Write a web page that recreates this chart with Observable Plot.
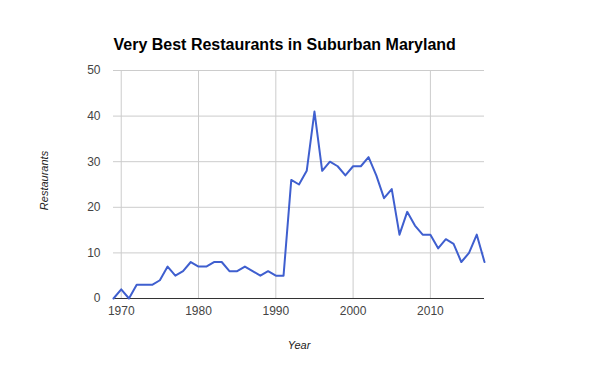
<!DOCTYPE html>
<html>
<head>
<meta charset="utf-8">
<script src="https://cdn.jsdelivr.net/npm/d3@7"></script>
<script src="https://cdn.jsdelivr.net/npm/@observablehq/plot@0.6"></script>
<style>
  html, body { margin: 0; padding: 0; background: #fff; }
  #chart svg { display: block; }
</style>
</head>
<body>
<div id="chart"></div>
<script>
const years = [1969,1970,1971,1972,1973,1974,1975,1976,1977,1978,1979,1980,1981,1982,1983,1984,1985,1986,1987,1988,1989,1990,1991,1992,1993,1994,1995,1996,1997,1998,1999,2000,2001,2002,2003,2004,2005,2006,2007,2008,2009,2010,2011,2012,2013,2014,2015,2016,2017];
const restaurants = [0,2,0,3,3,3,4,7,5,6,8,7,7,8,8,6,6,7,6,5,6,5,5,26,25,28,41,28,30,29,27,29,29,31,27,22,24,14,19,16,14,14,11,13,12,8,10,14,8];
const xTicks = [1970,1980,1990,2000,2010];
const yTicks = [0,10,20,30,40,50];
const title = "Very Best Restaurants in Suburban Maryland";
const xLabel = "Year";
const yLabel = "Restaurants";

const data = years.map((y, i) => ({year: y, value: restaurants[i]}));

const chart = Plot.plot({
  width: 596,
  height: 368,
  marginLeft: 113,
  marginRight: 112,
  marginTop: 70,
  marginBottom: 70,
  style: {fontFamily: "'Liberation Sans', Arial, sans-serif", fontSize: "12px", color: "#444", background: "#fff"},
  x: {domain: [1969, 2017], ticks: xTicks, tickFormat: "d", tickSize: 0, tickPadding: 8, label: null},
  y: {domain: [0, 50], ticks: yTicks, tickSize: 0, tickPadding: 13, label: null},
  marks: [
    Plot.gridY(yTicks, {stroke: "#cccccc", strokeOpacity: 1}),
    Plot.gridX(xTicks, {stroke: "#cccccc", strokeOpacity: 1}),
    Plot.axisX({ticks: xTicks, tickFormat: "d", tickSize: 0, tickPadding: 8, fill: "#444", fontSize: 12, label: null}),
    Plot.axisY({ticks: yTicks, tickSize: 0, tickPadding: 13, fill: "#444", fontSize: 12, label: null}),
    Plot.ruleY([0], {stroke: "#333"}),
    Plot.line(data, {x: "year", y: "value", stroke: "#3f5fcf", strokeWidth: 2, strokeLinejoin: "round"}),
    Plot.text([title], {frameAnchor: "top-left", dy: -26, text: d => d, textAnchor: "start", lineAnchor: "middle", fontSize: 16, fontWeight: "bold", fill: "#000"}),
    Plot.text([yLabel], {frameAnchor: "left", dx: -69, dy: -4, text: d => d, rotate: -90, textAnchor: "middle", fontStyle: "italic", fontSize: 11, fill: "#222", lineAnchor: "middle"}),
    Plot.text([xLabel], {frameAnchor: "bottom", dy: 47, text: d => d, textAnchor: "middle", fontStyle: "italic", fontSize: 11, fill: "#222", lineAnchor: "middle"})
  ]
});
document.getElementById("chart").appendChild(chart);
</script>
</body>
</html>
